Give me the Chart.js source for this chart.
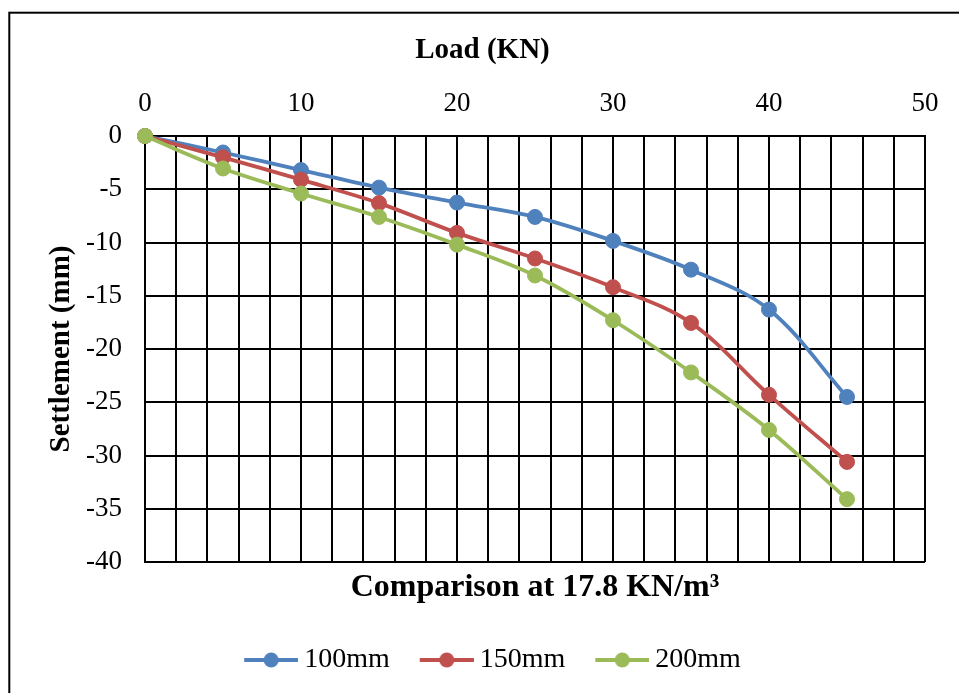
<!DOCTYPE html>
<html>
<head>
<meta charset="utf-8">
<script src="https://cdn.jsdelivr.net/npm/chart.js@4/dist/chart.umd.min.js"></script>
<style>
  html, body { margin: 0; padding: 0; background: #fff; }
  #wrap { width: 959px; height: 693px; position: relative; }
</style>
</head>
<body>
<div id="wrap"><canvas id="c" width="959" height="693"></canvas></div>
<script>
const loads = [0, 5, 10, 15, 20, 25, 30, 35, 40, 45];
const settle100 = [0, -1.55, -3.2, -4.85, -6.25, -7.6, -9.85, -12.55, -16.3, -24.5];
const settle150 = [0, -2.0, -4.1, -6.3, -9.1, -11.5, -14.2, -17.55, -24.3, -30.6];
const settle200 = [0, -3.05, -5.4, -7.6, -10.2, -13.1, -17.3, -22.2, -27.6, -34.1];
const seriesNames = ['100mm', '150mm', '200mm'];
const seriesColors = ['#4F81BD', '#C0504D', '#9BBB59'];
const xTitle = 'Load (KN)';
const yTitle = 'Settlement (mm)';
const chartTitle = 'Comparison at 17.8 KN/m\u00B3';

const FONT = "'Liberation Serif', 'Times New Roman', serif";

function pts(ys) { return loads.map((x, i) => ({ x: x, y: ys[i] })); }

function legendIcon(color) {
  const cv = document.createElement('canvas');
  cv.width = 82; cv.height = 20;
  const g = cv.getContext('2d');
  g.strokeStyle = color; g.lineWidth = 4;
  g.beginPath(); g.moveTo(28, 10); g.lineTo(82, 10); g.stroke();
  g.fillStyle = color;
  g.beginPath(); g.arc(55, 10, 7.5, 0, Math.PI * 2); g.fill();
  return cv;
}
const icons = seriesColors.map(legendIcon);

const frame = {
  id: 'frame',
  beforeDraw(chart) {
    const ctx = chart.ctx;
    ctx.save();
    ctx.fillStyle = '#fff';
    ctx.fillRect(0, 0, chart.width, chart.height);
    ctx.strokeStyle = '#000';
    ctx.lineWidth = 2;
    ctx.strokeRect(9.3, 12.7, 1000, 1000);
    ctx.restore();
  }
};

const allSeries = [settle100, settle150, settle200];
const datasets = allSeries.map((s, i) => ({
  label: seriesNames[i],
  data: pts(s),
  borderColor: seriesColors[i],
  backgroundColor: seriesColors[i],
  pointBackgroundColor: seriesColors[i],
  pointBorderColor: seriesColors[i],
  pointRadius: 7.5,
  pointBorderWidth: 1,
  borderWidth: 3.8,
  tension: 0.35,
  clip: false,
  order: 3 - i
}));

new Chart(document.getElementById('c'), {
  type: 'line',
  data: { datasets: datasets },
  plugins: [frame],
  options: {
    responsive: false,
    animation: false,
    devicePixelRatio: 1,
    layout: { padding: { left: 40, right: 34, top: 30, bottom: 9 } },
    plugins: {
      tooltip: { enabled: false },
      title: {
        display: true,
        text: xTitle,
        position: 'top',
        color: '#000',
        font: { family: FONT, size: 29, weight: 'bold' },
        padding: { top: 3.6, bottom: 19.2 }
      },
      subtitle: {
        display: true,
        text: chartTitle,
        position: 'bottom',
        fullSize: false,
        weight: 500,
        color: '#000',
        font: { family: FONT, size: 32, weight: 'bold' },
        padding: { top: 7, bottom: 28.6 }
      },
      legend: {
        display: true,
        position: 'bottom',
        labels: {
          usePointStyle: true,
          pointStyleWidth: 66,
          padding: 10,
          color: '#000',
          font: { family: FONT, size: 28 },
          generateLabels: (chart) => chart.data.datasets.map((d, i) => ({
            text: d.label,
            fillStyle: seriesColors[i],
            strokeStyle: seriesColors[i],
            lineWidth: 0,
            pointStyle: icons[i],
            hidden: false,
            datasetIndex: i,
            fontColor: '#000'
          }))
        }
      }
    },
    scales: {
      x: {
        type: 'linear',
        position: 'top',
        min: 0,
        max: 50,
        afterFit: (scale) => { scale.height = 48.4; },
        ticks: {
          stepSize: 2,
          autoSkip: false,
          maxRotation: 0,
          padding: 16,
          color: '#000',
          font: { family: FONT, size: 27 },
          callback: (v) => (v % 10 === 0 ? String(v) : '')
        },
        grid: { color: '#000', lineWidth: 2, drawTicks: false },
        border: { color: '#000', width: 2 }
      },
      y: {
        type: 'linear',
        min: -40,
        max: 0,
        afterFit: (scale) => { scale.width = 105; },
        ticks: {
          stepSize: 5,
          padding: 23,
          color: '#000',
          font: { family: FONT, size: 27 }
        },
        grid: { color: '#000', lineWidth: 2, drawTicks: false },
        border: { color: '#000', width: 2 },
        title: {
          display: true,
          text: yTitle,
          color: '#000',
          font: { family: FONT, size: 29, weight: 'bold' },
          padding: { top: 4.6, bottom: 6.6 }
        }
      }
    }
  }
});
</script>
</body>
</html>
